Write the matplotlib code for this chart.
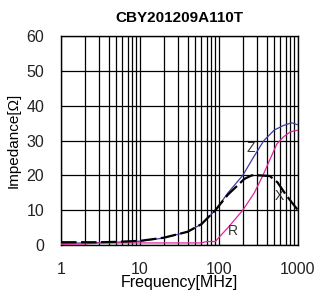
import matplotlib
matplotlib.use("Agg")
import matplotlib.pyplot as plt
from matplotlib.ticker import FixedLocator, NullFormatter

plt.rcParams['font.family'] = ['Liberation Sans', 'DejaVu Sans']

# impedance curves
z_freq = [1, 2, 3, 5, 10, 20, 40, 60, 90, 130, 200, 270, 370, 500, 650, 830, 1000]
z_val = [0.5, 0.6, 0.7, 0.8, 1.1, 2.0, 3.8, 6.0, 10.0, 15.0, 20.0, 25.0, 30.0, 33.0, 34.3, 35.1, 34.5]

x_freq = [1, 2, 3, 5, 10, 20, 40, 60, 90, 130, 170, 210, 260, 330, 440, 550, 700, 850, 1000]
x_val = [0.8, 0.8, 0.8, 0.9, 1.2, 2.1, 3.8, 6.0, 10.0, 14.5, 17.0, 19.0, 20.0, 20.0, 19.8, 18.0, 14.5, 12.0, 10.0]

r_freq = [1, 2, 3, 5, 10, 20, 40, 60, 70, 90, 100, 130, 200, 280, 360, 450, 540, 650, 800, 1000]
r_val = [0.2, 0.3, 0.6, 0.6, 0.6, 0.6, 0.6, 0.6, 1.0, 1.0, 2.2, 5.0, 10.0, 15.0, 20.0, 25.0, 29.0, 31.0, 32.5, 33.0]

x_ticks = [1, 10, 100, 1000]
y_ticks = [0, 10, 20, 30, 40, 50, 60]

fig = plt.figure(figsize=(3.16, 2.91), dpi=100)
ax = fig.add_axes([0.193, 0.158, 0.75, 0.718])

ax.plot(z_freq, z_val, color="#3a3aa8", lw=0.9, zorder=3)
ax.plot(r_freq, r_val, color="#e0259c", lw=0.9, zorder=3)
ax.plot(x_freq, x_val, color="black", lw=1.6, ls=(0, (7, 2)), zorder=4)

ax.set_xscale("log")
ax.set_xlim(1, 1000)
ax.set_ylim(0, 60)

minor = [m * 10 ** d for d in range(3) for m in range(2, 10)]
ax.xaxis.set_major_locator(FixedLocator(x_ticks))
ax.xaxis.set_minor_locator(FixedLocator(minor))
ax.xaxis.set_minor_formatter(NullFormatter())
ax.set_xticklabels([str(t) for t in x_ticks])
ax.set_yticks(y_ticks)

ax.grid(True, which="both", axis="x", color="black", lw=0.9)
ax.grid(True, which="major", axis="y", color="black", lw=0.9)
ax.tick_params(which="both", length=0, labelsize=11.5, colors="#222222")
ax.tick_params(axis="x", pad=12)
ax.tick_params(axis="y", pad=12)
for s in ax.spines.values():
    s.set_linewidth(1.0)

ax.text(255, 28, "Z", fontsize=10, ha="center", va="center", color="#333333")
ax.text(580, 14, "X", fontsize=10, ha="center", va="center", color="#333333")
ax.text(150, 4, "R", fontsize=10, ha="center", va="center", color="#333333")

ax.set_title("CBY201209A110T", fontsize=11, fontweight="bold", pad=10)
ax.set_xlabel("Frequency[MHz]", fontsize=11.5, labelpad=-1)
ax.set_ylabel("Impedance[\u03a9]", fontsize=11, labelpad=4)

fig.savefig("out.png", dpi=100)
